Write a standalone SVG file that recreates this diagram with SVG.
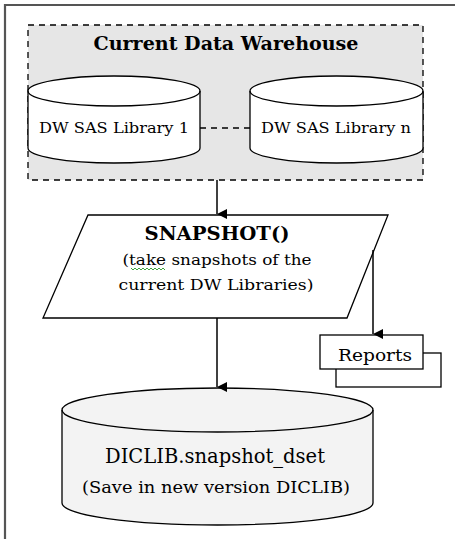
<svg xmlns="http://www.w3.org/2000/svg" width="455" height="539" viewBox="0 0 455 539">
<defs>
<marker id="ah" markerWidth="10" markerHeight="11" refX="5" refY="10" orient="auto" markerUnits="userSpaceOnUse" viewBox="0 0 10 11">
<path d="M0,0 L10,0 L5,10 Z" fill="#000"/>
</marker>
<style>
.s{stroke:#000;stroke-width:1.3}
.t{font-family:"DejaVu Serif","Liberation Serif",serif;fill:#000;text-anchor:middle}
.b{font-weight:bold}
.c{stroke:#000;stroke-width:1.5;fill:none}
</style>
</defs>
<rect width="455" height="539" fill="#fff"/>
<path d="M5,539 V5 H455" fill="none" stroke="#555" stroke-width="2.2"/>
<g id="warehouse">
<rect x="28" y="25" width="395" height="155" fill="#e6e6e6" stroke="#000" stroke-width="1.3" stroke-dasharray="6,5"/>
<text class="t b" x="226" y="50" font-size="19" textLength="265" lengthAdjust="spacingAndGlyphs">Current Data Warehouse</text>
</g>
<g id="lib1">
<path class="s" fill="#fff" d="M28,91 V148 A86,15 0 0 0 200,148 V91 A86,15 0 0 0 28,91 Z"/>
<path class="s" fill="none" d="M28,91 A86,15 0 0 0 200,91"/>
<text class="t" x="114" y="133" font-size="15" textLength="150" lengthAdjust="spacingAndGlyphs">DW SAS Library 1</text>
</g>
<g id="libn">
<path class="s" fill="#fff" d="M250,91 V148 A86.5,15 0 0 0 423,148 V91 A86.5,15 0 0 0 250,91 Z"/>
<path class="s" fill="none" d="M250,91 A86.5,15 0 0 0 423,91"/>
<text class="t" x="336" y="133" font-size="15" textLength="150" lengthAdjust="spacingAndGlyphs">DW SAS Library n</text>
</g>
<g id="snapshot">
<path class="s" fill="#fff" d="M88,215 H388 L347,318 H43 Z"/>
<text class="t b" x="217" y="240" font-size="19" textLength="145" lengthAdjust="spacingAndGlyphs">SNAPSHOT()</text>
<text class="t" x="217" y="265" font-size="15" textLength="189" lengthAdjust="spacingAndGlyphs">(take snapshots of the</text>
<text class="t" x="216" y="290" font-size="15" textLength="195" lengthAdjust="spacingAndGlyphs">current DW Libraries)</text>
<polyline points="131,268 133,270 135,268 137,270 139,268 141,270 143,268 145,270 147,268 149,270 151,268 153,270 155,268 157,270 159,268 161,270 163,268 165,270" fill="none" stroke="#2a9a2a" stroke-width="0.9"/>
</g>
<g id="reports">
<rect class="s" fill="#fff" x="336" y="353" width="105" height="34"/>
<rect class="s" fill="#fff" x="320" y="335" width="103" height="34"/>
<text class="t" x="375" y="361" font-size="16" textLength="74" lengthAdjust="spacingAndGlyphs">Reports</text>
</g>
<g id="diclib">
<path class="s" fill="#f3f3f3" d="M62,410 V503 A155.5,22 0 0 0 373,503 V410 A155.5,22 0 0 0 62,410 Z"/>
<path class="s" fill="none" d="M62,410 A155.5,22 0 0 0 373,410"/>
<text class="t" x="215" y="463" font-size="21" textLength="220" lengthAdjust="spacingAndGlyphs">DICLIB.snapshot_dset</text>
<text class="t" x="216" y="493" font-size="17" textLength="268" lengthAdjust="spacingAndGlyphs">(Save in new version DICLIB)</text>
</g>
<g id="connectors">
<line x1="200" y1="128" x2="250" y2="128" stroke="#000" stroke-width="1.3" stroke-dasharray="6,5"/>
<line class="c" x1="217" y1="180" x2="217" y2="214" marker-end="url(#ah)"/>
<line class="c" x1="373" y1="250" x2="373" y2="334" marker-end="url(#ah)"/>
<line class="c" x1="217" y1="318" x2="217" y2="387" marker-end="url(#ah)"/>
</g>
</svg>
